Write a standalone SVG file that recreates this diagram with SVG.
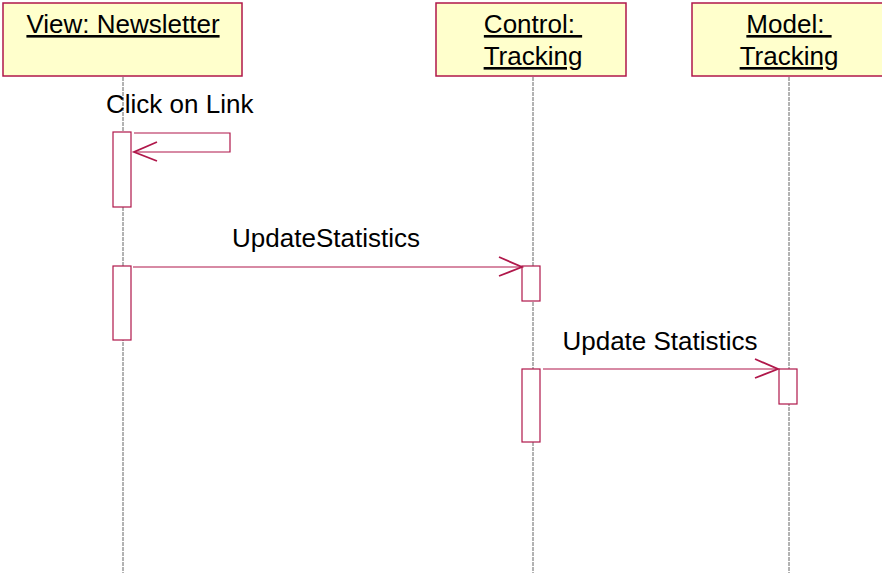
<svg xmlns="http://www.w3.org/2000/svg" width="882" height="573" viewBox="0 0 882 573">
<style>
.obj{fill:#ffffcc;stroke:#b0174a;stroke-width:1.5}
.lbl{font-family:"Liberation Sans",Arial,sans-serif;font-size:26px;fill:#000}
.u{text-decoration:underline}
.life{stroke:#666;stroke-width:1;stroke-dasharray:4,1}
.act{fill:#fff;stroke:#b0174a;stroke-width:1.2}
.msg{fill:none;stroke:#b0174a;stroke-width:1.2}
.head{fill:none;stroke:#b0174a;stroke-width:1.8}
</style>
<rect width="882" height="573" fill="#fff"/>
<g id="lifelines">
<line class="life" x1="123" y1="77" x2="123" y2="573"/>
<line class="life" x1="533" y1="77" x2="533" y2="573"/>
<line class="life" x1="789" y1="77" x2="789" y2="573"/>
</g>
<g id="view">
<rect class="obj" x="3" y="3" width="239" height="73"/>
<text class="lbl u" x="123" y="33" text-anchor="middle">View: Newsletter</text>
</g>
<g id="control">
<rect class="obj" x="436" y="3" width="190" height="73"/>
<text class="lbl u" x="533" y="33" text-anchor="middle" xml:space="preserve">Control: </text>
<text class="lbl u" x="533" y="65" text-anchor="middle">Tracking</text>
</g>
<g id="model">
<rect class="obj" x="692" y="3" width="196" height="73"/>
<text class="lbl u" x="789" y="33" text-anchor="middle" xml:space="preserve">Model: </text>
<text class="lbl u" x="789" y="65" text-anchor="middle">Tracking</text>
</g>
<g id="activations">
<rect class="act" x="113" y="132" width="18" height="75"/>
<rect class="act" x="113" y="266" width="18" height="74"/>
<rect class="act" x="522" y="266" width="18" height="35"/>
<rect class="act" x="522" y="369" width="18" height="73"/>
<rect class="act" x="779" y="369" width="18" height="35"/>
</g>
<g id="connectors">
<polyline class="msg" points="134,133 230,133 230,152 134,152"/>
<polyline class="head" points="157,142 134,152 157,161"/>
<text class="lbl" x="106" y="113">Click on Link</text>
<line class="msg" x1="133" y1="267" x2="522" y2="267"/>
<polyline class="head" points="499,257 522,267 499,276"/>
<text class="lbl" x="326" y="247" text-anchor="middle">UpdateStatistics</text>
<line class="msg" x1="543" y1="369" x2="778" y2="369"/>
<polyline class="head" points="755,359 778,369 755,378"/>
<text class="lbl" x="660" y="350" text-anchor="middle">Update Statistics</text>
</g>
</svg>
